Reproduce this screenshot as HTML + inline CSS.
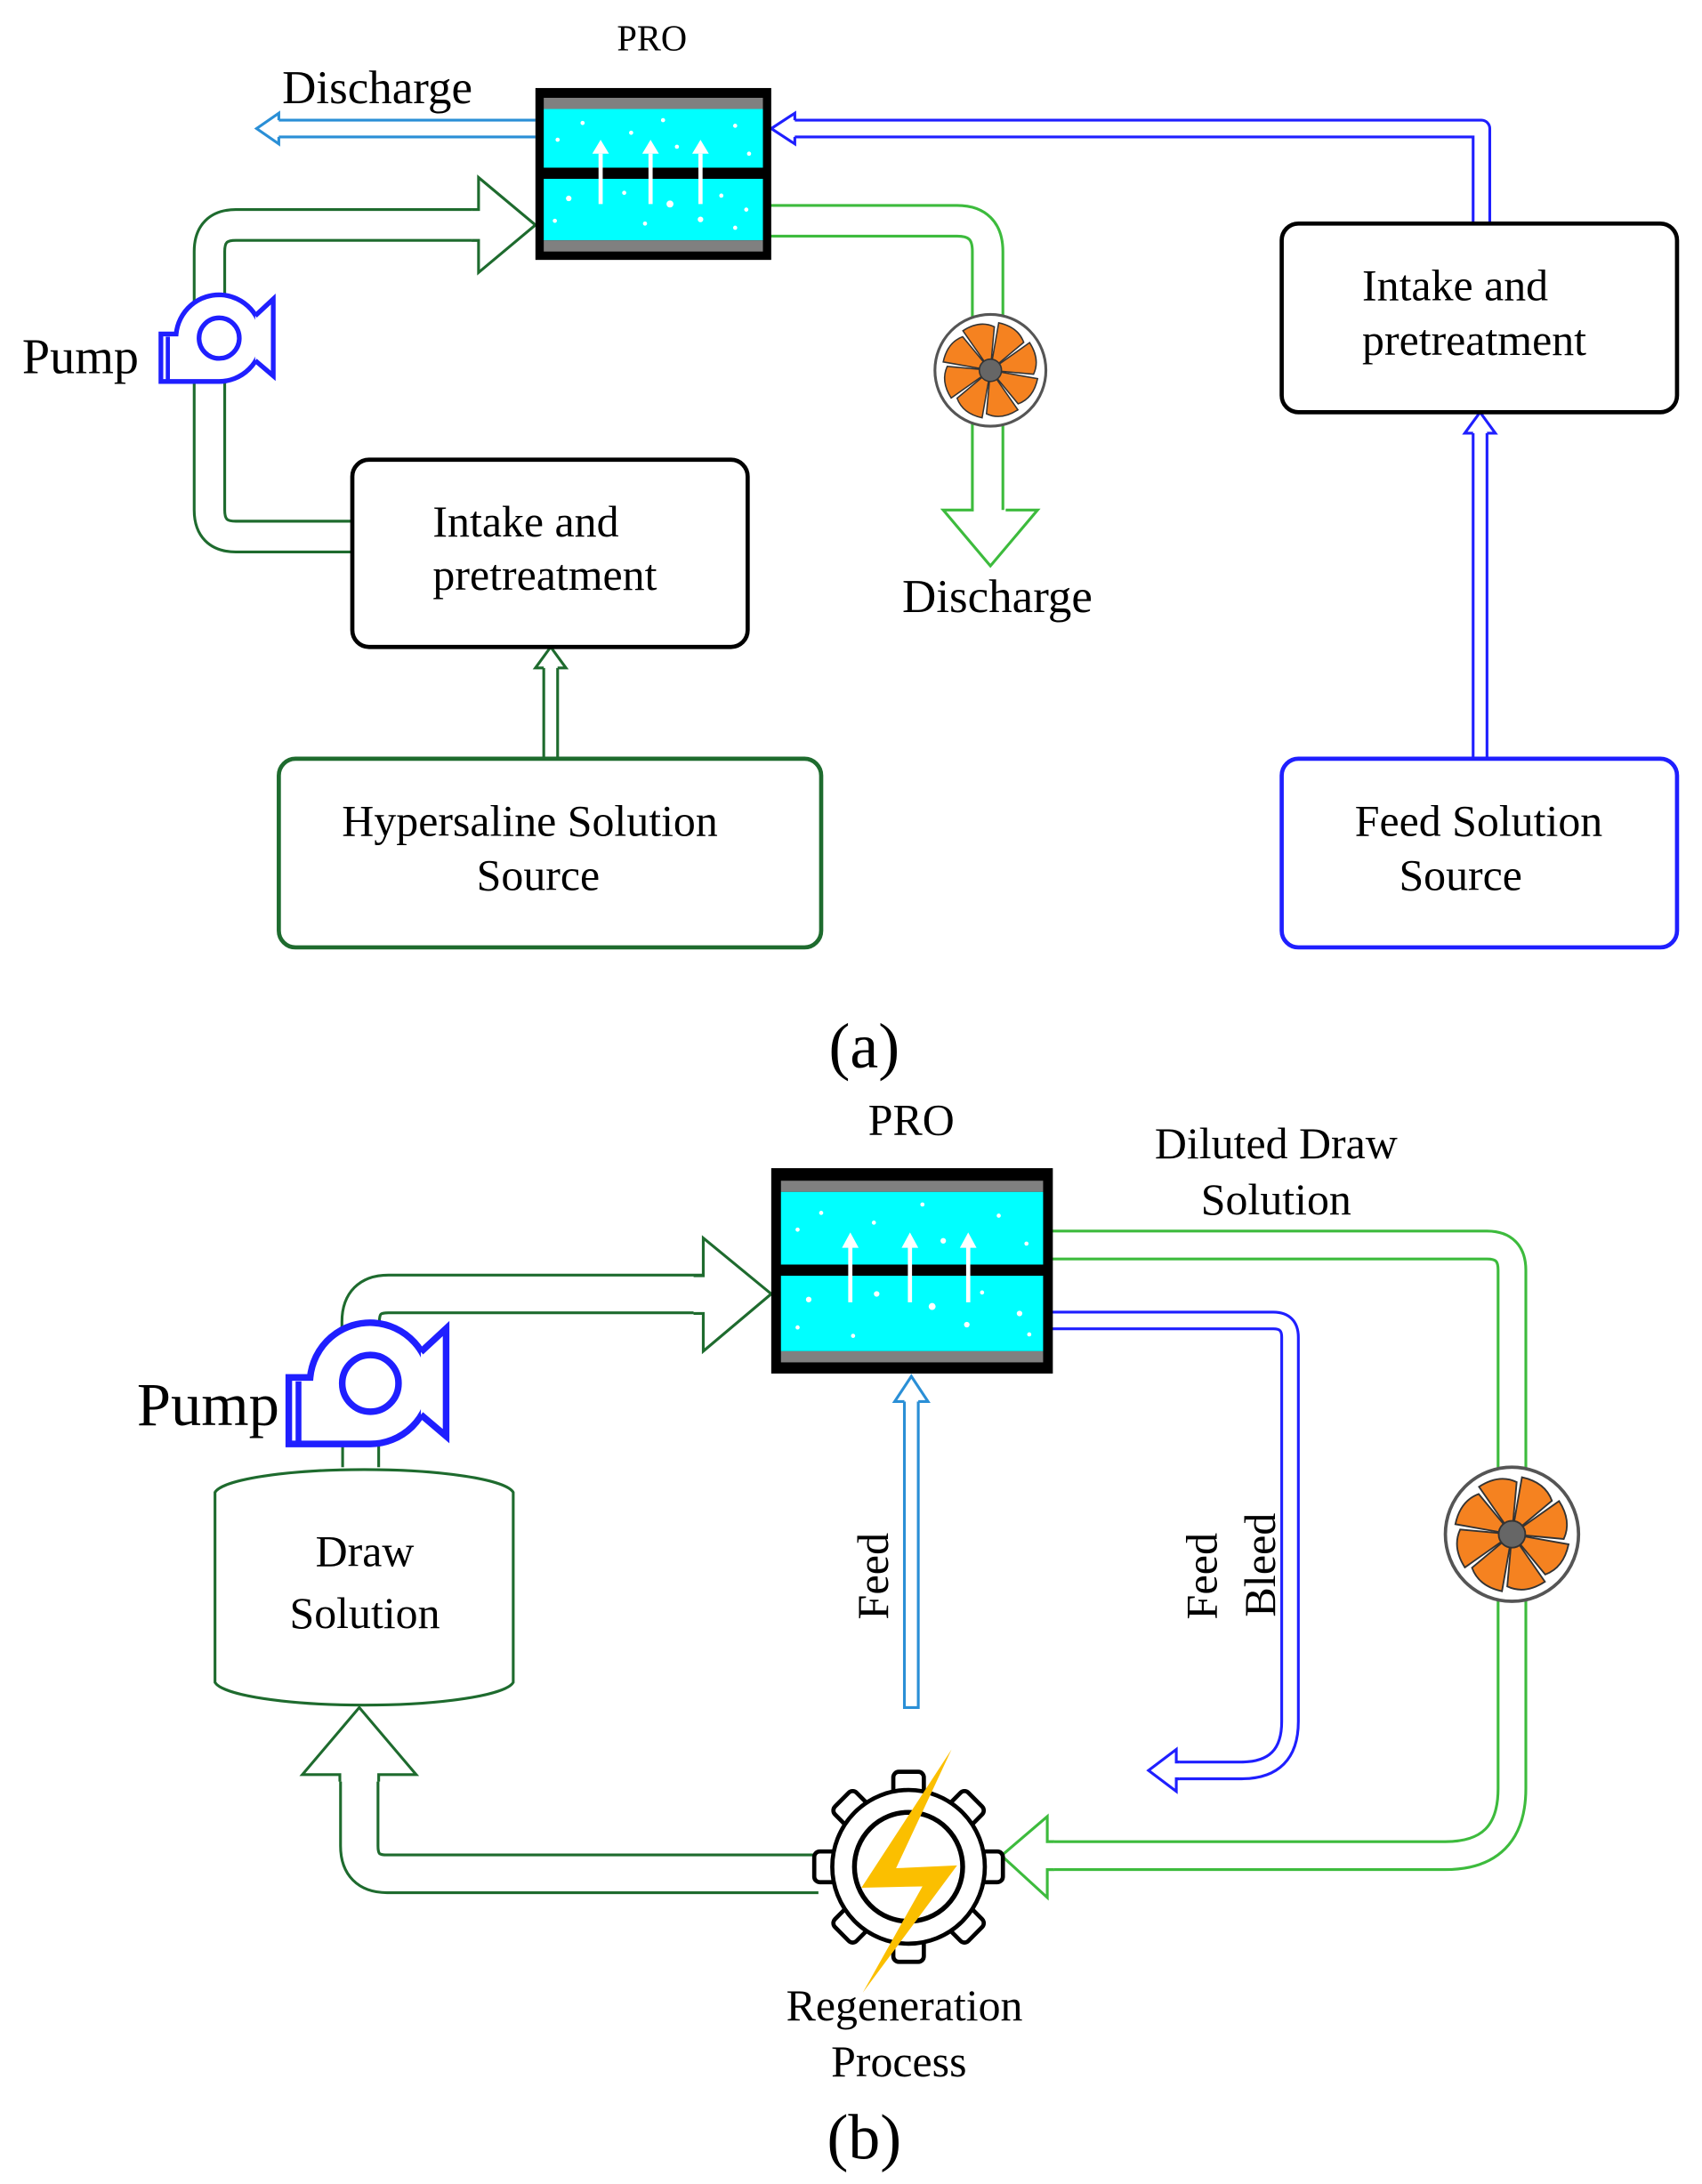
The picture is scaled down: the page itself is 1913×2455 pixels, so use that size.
<!DOCTYPE html>
<html><head><meta charset="utf-8"><style>
html,body{margin:0;padding:0;background:#fff;}
svg{display:block;}
text{font-family:"Liberation Serif",serif;fill:#000;}
</style></head><body>
<svg width="1913" height="2455" viewBox="0 0 1227 1563" preserveAspectRatio="none" xmlns="http://www.w3.org/2000/svg">
<defs>
<g id="pump">
<path d="M116,239 H127 A31,31 0 1 1 158,273 H116 Z" fill="#fff" stroke="#1f1fff" stroke-width="3.4"/>
<polyline points="184,226 197,214 197,269 184,258" fill="#fff" stroke="#1f1fff" stroke-width="3.4"/>
<line x1="121" y1="241" x2="121" y2="273" stroke="#1f1fff" stroke-width="3"/>
<circle cx="158" cy="242" r="14.5" fill="#fff" stroke="#1f1fff" stroke-width="3.4"/>
</g>
<g id="fan">
<circle r="40" fill="#fff" stroke="#555" stroke-width="2"/>
<g fill="#f58220" stroke="#333" stroke-width="1">
<path d="M0,0 L6,-34 Q20,-31 24,-20 Z"/><path transform="rotate(45)" d="M0,0 L6,-34 Q20,-31 24,-20 Z"/><path transform="rotate(90)" d="M0,0 L6,-34 Q20,-31 24,-20 Z"/><path transform="rotate(135)" d="M0,0 L6,-34 Q20,-31 24,-20 Z"/><path transform="rotate(180)" d="M0,0 L6,-34 Q20,-31 24,-20 Z"/><path transform="rotate(225)" d="M0,0 L6,-34 Q20,-31 24,-20 Z"/><path transform="rotate(270)" d="M0,0 L6,-34 Q20,-31 24,-20 Z"/><path transform="rotate(315)" d="M0,0 L6,-34 Q20,-31 24,-20 Z"/></g>
<circle r="8" fill="#666" stroke="#333" stroke-width="1"/>
</g>
</defs>
<rect width="1227" height="1563" fill="#fff"/>

<!-- ========== (a) ========== -->
<path d="M386,92 H200" stroke="#2a8fd6" stroke-width="14" fill="none"/>
<path d="M388,92 H200" stroke="#fff" stroke-width="10" fill="none"/>
<polyline points="201,86 201,81 185,92 201,103 201,98" fill="#fff" stroke="#2a8fd6" stroke-width="2"/>
<path d="M1068,162 V92 H570" stroke="#1f1fff" stroke-width="14" fill="none" stroke-linejoin="round"/>
<path d="M1068,164 V92 H570" stroke="#fff" stroke-width="10" fill="none" stroke-linejoin="round"/>
<polyline points="573,86 573,81 556,92 573,103 573,98" fill="#fff" stroke="#1f1fff" stroke-width="2"/>
<path d="M1067,543 V310" stroke="#1f1fff" stroke-width="12" fill="none"/>
<path d="M1067,545 V308" stroke="#fff" stroke-width="8" fill="none"/>
<polyline points="1062,310 1056,310 1067,295 1078,310 1072,310" fill="#fff" stroke="#1f1fff" stroke-width="2"/>
<path d="M397,543 V478" stroke="#1e6b2e" stroke-width="12" fill="none"/>
<path d="M397,545 V476" stroke="#fff" stroke-width="8" fill="none"/>
<polyline points="392,478 386,478 397,463 408,478 402,478" fill="#fff" stroke="#1e6b2e" stroke-width="2"/>
<path d="M550,158 H690 Q712,158 712,180 V366" stroke="#3dbb3d" stroke-width="24" fill="none"/>
<path d="M550,158 H690 Q712,158 712,180 V368" stroke="#fff" stroke-width="20" fill="none"/>
<polyline points="702,365 680,365 714,405 748,365 725,365" fill="#fff" stroke="#3dbb3d" stroke-width="2"/>
<path d="M256,384 H170 Q151,384 151,365 V180 Q151,161 170,161 H347" stroke="#1e6b2e" stroke-width="24" fill="none"/>
<path d="M258,384 H170 Q151,384 151,365 V180 Q151,161 170,161 H349" stroke="#fff" stroke-width="20" fill="none"/>
<polyline points="340,150 345,150 345,127 386,161 345,195 345,172 340,172" fill="#fff" stroke="#1e6b2e" stroke-width="2"/>

<rect x="386" y="63" width="170" height="123" fill="#000"/>
<rect x="392" y="70" width="158" height="8" fill="#808080"/>
<rect x="392" y="78" width="158" height="42" fill="#00ffff"/>
<rect x="392" y="128" width="158" height="44" fill="#00ffff"/>
<rect x="392" y="172" width="158" height="8" fill="#808080"/>
<g stroke="#fff" stroke-width="3">
<line x1="433" y1="146" x2="433" y2="110"/><line x1="469" y1="146" x2="469" y2="110"/><line x1="505" y1="146" x2="505" y2="110"/></g>
<g fill="#fff">
<polygon points="427,110 433,100 439,110"/><polygon points="463,110 469,100 475,110"/><polygon points="499,110 505,100 511,110"/>
<circle cx="402" cy="100" r="1.5"/><circle cx="420" cy="88" r="1.5"/><circle cx="455" cy="95" r="1.5"/><circle cx="488" cy="105" r="1.5"/><circle cx="530" cy="90" r="1.5"/><circle cx="540" cy="110" r="1.5"/><circle cx="478" cy="86" r="1.5"/>
<circle cx="410" cy="142" r="2"/><circle cx="450" cy="138" r="1.5"/><circle cx="483" cy="146" r="2.5"/><circle cx="520" cy="140" r="1.5"/><circle cx="400" cy="158" r="1.5"/><circle cx="465" cy="160" r="1.5"/><circle cx="505" cy="157" r="2"/><circle cx="538" cy="150" r="1.5"/><circle cx="530" cy="163" r="1.5"/></g>
<text x="470" y="36" font-size="26" text-anchor="middle">PRO</text>
<text x="272" y="74" font-size="34" text-anchor="middle">Discharge</text>

<use href="#fan" transform="translate(714,265)"/>
<text x="719" y="438" font-size="34" text-anchor="middle">Discharge</text>

<use href="#pump"/>
<text x="58" y="267" font-size="36" text-anchor="middle">Pump</text>

<rect x="254" y="329" width="285" height="134" rx="12" fill="#fff" stroke="#000" stroke-width="3"/>
<text x="312" y="384" font-size="32">Intake and</text>
<text x="312" y="422" font-size="32">pretreatment</text>
<rect x="201" y="543" width="391" height="135" rx="12" fill="#fff" stroke="#1e6b2e" stroke-width="3"/>
<text x="382" y="598" font-size="32" text-anchor="middle">Hypersaline Solution</text>
<text x="388" y="637" font-size="32" text-anchor="middle">Source</text>
<rect x="924" y="160" width="285" height="135" rx="12" fill="#fff" stroke="#000" stroke-width="3"/>
<text x="982" y="215" font-size="32">Intake and</text>
<text x="982" y="254" font-size="32">pretreatment</text>
<rect x="924" y="543" width="285" height="135" rx="12" fill="#fff" stroke="#1f1fff" stroke-width="3"/>
<text x="1066" y="598" font-size="32" text-anchor="middle">Feed Solution</text>
<text x="1053" y="637" font-size="32" text-anchor="middle">Source</text>
<text x="623" y="764" font-size="46" text-anchor="middle">(a)</text>

<!-- ========== (b) ========== -->
<path d="M750,891 H1072 Q1090,891 1090,909 V1280 Q1090,1328 1042,1328 H756" stroke="#3dbb3d" stroke-width="22" fill="none"/>
<path d="M748,891 H1072 Q1090,891 1090,909 V1280 Q1090,1328 1042,1328 H754" stroke="#fff" stroke-width="18" fill="none"/>
<polyline points="760,1318 755,1318 755,1300 722,1328 755,1358 755,1338 760,1338" fill="#fff" stroke="#3dbb3d" stroke-width="2"/>
<path d="M750,945 H918 Q930,945 930,957 V1232 Q930,1267 895,1267 H848" stroke="#1f1fff" stroke-width="14" fill="none"/>
<path d="M748,945 H918 Q930,945 930,957 V1232 Q930,1267 895,1267 H846" stroke="#fff" stroke-width="10" fill="none"/>
<polyline points="850,1261 848,1261 848,1252 828,1267 848,1282 848,1273 850,1273" fill="#fff" stroke="#1f1fff" stroke-width="2"/>
<path d="M657,1223 V1003" stroke="#2a8fd6" stroke-width="12" fill="none"/>
<path d="M657,1221 V1001" stroke="#fff" stroke-width="8" fill="none"/>
<polyline points="652,1003 645,1003 657,985 669,1003 662,1003" fill="#fff" stroke="#2a8fd6" stroke-width="2"/>
<path d="M260,962 V946 Q260,926 280,926 H509" stroke="#1e6b2e" stroke-width="29" fill="none"/>
<path d="M260,964 V946 Q260,926 280,926 H511" stroke="#fff" stroke-width="25" fill="none"/>
<polyline points="500,913 507,913 507,886 556,926 507,967 507,940 500,940" fill="#fff" stroke="#1e6b2e" stroke-width="2"/>
<path d="M590,1341 H279 Q259,1341 259,1321 V1268" stroke="#1e6b2e" stroke-width="29" fill="none"/>
<path d="M592,1341 H279 Q259,1341 259,1321 V1266" stroke="#fff" stroke-width="25" fill="none"/>
<polyline points="245,1275 245,1270 218,1270 259,1222 300,1270 273,1270 273,1275" fill="#fff" stroke="#1e6b2e" stroke-width="2"/>

<rect x="556" y="836" width="203" height="147" fill="#000"/>
<rect x="563" y="845" width="189" height="8" fill="#808080"/>
<rect x="563" y="853" width="189" height="52" fill="#00ffff"/>
<rect x="563" y="913" width="189" height="54" fill="#00ffff"/>
<rect x="563" y="967" width="189" height="8" fill="#808080"/>
<g stroke="#fff" stroke-width="3">
<line x1="613" y1="932" x2="613" y2="892"/><line x1="656" y1="932" x2="656" y2="892"/><line x1="698" y1="932" x2="698" y2="892"/></g>
<g fill="#fff">
<polygon points="607,893 613,882 619,893"/><polygon points="650,893 656,882 662,893"/><polygon points="692,893 698,882 704,893"/>
<circle cx="575" cy="880" r="1.5"/><circle cx="592" cy="868" r="1.5"/><circle cx="630" cy="875" r="1.5"/><circle cx="680" cy="888" r="2"/><circle cx="720" cy="870" r="1.5"/><circle cx="740" cy="890" r="1.5"/><circle cx="665" cy="862" r="1.5"/>
<circle cx="583" cy="930" r="2"/><circle cx="632" cy="926" r="2"/><circle cx="672" cy="935" r="2.5"/><circle cx="708" cy="925" r="1.5"/><circle cx="735" cy="940" r="2"/><circle cx="575" cy="950" r="1.5"/><circle cx="615" cy="956" r="1.5"/><circle cx="697" cy="948" r="2"/><circle cx="742" cy="955" r="1.5"/></g>
<text x="657" y="812" font-size="32" text-anchor="middle">PRO</text>
<text x="920" y="829" font-size="32" text-anchor="middle">Diluted Draw</text>
<text x="920" y="869" font-size="32" text-anchor="middle">Solution</text>

<use href="#fan" transform="translate(1090,1098) scale(1.2)"/>

<line x1="247" y1="1025" x2="247" y2="1050" stroke="#1e6b2e" stroke-width="2"/>
<line x1="273" y1="1025" x2="273" y2="1050" stroke="#1e6b2e" stroke-width="2"/>
<g transform="translate(267,990) scale(1.4) translate(-158,-242)"><use href="#pump"/></g>
<text x="150" y="1020" font-size="44" text-anchor="middle">Pump</text>

<path d="M155,1068 A108,18 0 0 1 370,1068 V1204 A108,18 0 0 1 155,1204 Z" fill="#fff" stroke="#1e6b2e" stroke-width="2"/>
<text x="263" y="1121" font-size="32" text-anchor="middle">Draw</text>
<text x="263" y="1165" font-size="32" text-anchor="middle">Solution</text>

<text transform="translate(640,1128) rotate(-90)" font-size="32" text-anchor="middle">Feed</text>
<text transform="translate(877,1128) rotate(-90)" font-size="32" text-anchor="middle">Feed</text>
<text transform="translate(919,1120) rotate(-90)" font-size="32" text-anchor="middle">Bleed</text>

<g transform="translate(655,1336)">
<g fill="#fff" stroke="#000" stroke-width="3">
<rect x="-11" y="-68" width="22" height="22" rx="4"/>
<rect x="-11" y="-68" width="22" height="22" rx="4" transform="rotate(45)"/>
<rect x="-11" y="-68" width="22" height="22" rx="4" transform="rotate(90)"/>
<rect x="-11" y="-68" width="22" height="22" rx="4" transform="rotate(135)"/>
<rect x="-11" y="-68" width="22" height="22" rx="4" transform="rotate(180)"/>
<rect x="-11" y="-68" width="22" height="22" rx="4" transform="rotate(225)"/>
<rect x="-11" y="-68" width="22" height="22" rx="4" transform="rotate(270)"/>
<rect x="-11" y="-68" width="22" height="22" rx="4" transform="rotate(315)"/>
<circle r="55"/>
<circle r="39" stroke-width="3.5"/></g></g>
<polygon points="686,1252 621,1351 665,1350 622,1426 690,1335 646,1337" fill="#fbbf00"/>
<text x="652" y="1446" font-size="32" text-anchor="middle">Regeneration</text>
<text x="648" y="1486" font-size="32" text-anchor="middle">Process</text>
<text x="623" y="1545" font-size="46" text-anchor="middle">(b)</text>
</svg>
</body></html>
